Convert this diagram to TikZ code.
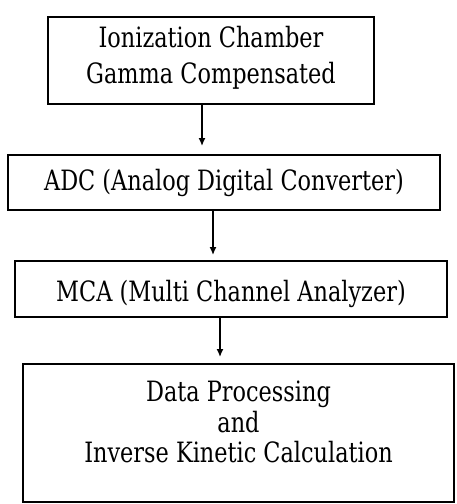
\documentclass[tikz,border=0pt]{standalone}
\usepackage{fontspec}
\setmainfont{DejaVu Serif}[FakeStretch=0.8]
\usetikzlibrary{arrows.meta}
% invisible struts that shift a text block inside its frame
\newcommand\padbelow[1]{\rule[-#1]{0pt}{#1}}
\newcommand\padabove[1]{\rule{0pt}{#1}}
\begin{document}
\begin{tikzpicture}[x=1pt,y=-1pt,
  box/.style={draw=black, line width=1.4pt, align=center, inner sep=0pt,
              font=\fontsize{28}{36}\selectfont},
  flow/.style={line width=1.4pt, -{Latex[length=8pt,width=7pt]}}]
\useasboundingbox (0,0) rectangle (457,504);

\node[box, minimum width=326pt, minimum height=87pt] (b1) at (211,60.5)
  {Ionization Chamber\\Gamma Compensated\padbelow{12pt}};
\node[box, minimum width=432pt, minimum height=55pt] (b2) at (224,182.5)
  {ADC (Analog Digital Converter)};
\node[box, minimum width=432pt, minimum height=56pt] (b3) at (231,289)
  {\padabove{31pt}MCA (Multi Channel Analyzer)};
\node[box, minimum width=431pt, minimum height=138pt,
      font=\fontsize{28}{30.5}\selectfont] (b4) at (238.5,433)
  {Data Processing\\and\\Inverse Kinetic Calculation\padbelow{22pt}};

% arrow tips stop just short of the next frame
\coordinate (t1) at (202,146);
\coordinate (t2) at (213,255);
\coordinate (t3) at (220,357);
\draw[flow] (b1.south -| t1) -- (t1);
\draw[flow] (b2.south -| t2) -- (t2);
\draw[flow] (b3.south -| t3) -- (t3);
\end{tikzpicture}
\end{document}
